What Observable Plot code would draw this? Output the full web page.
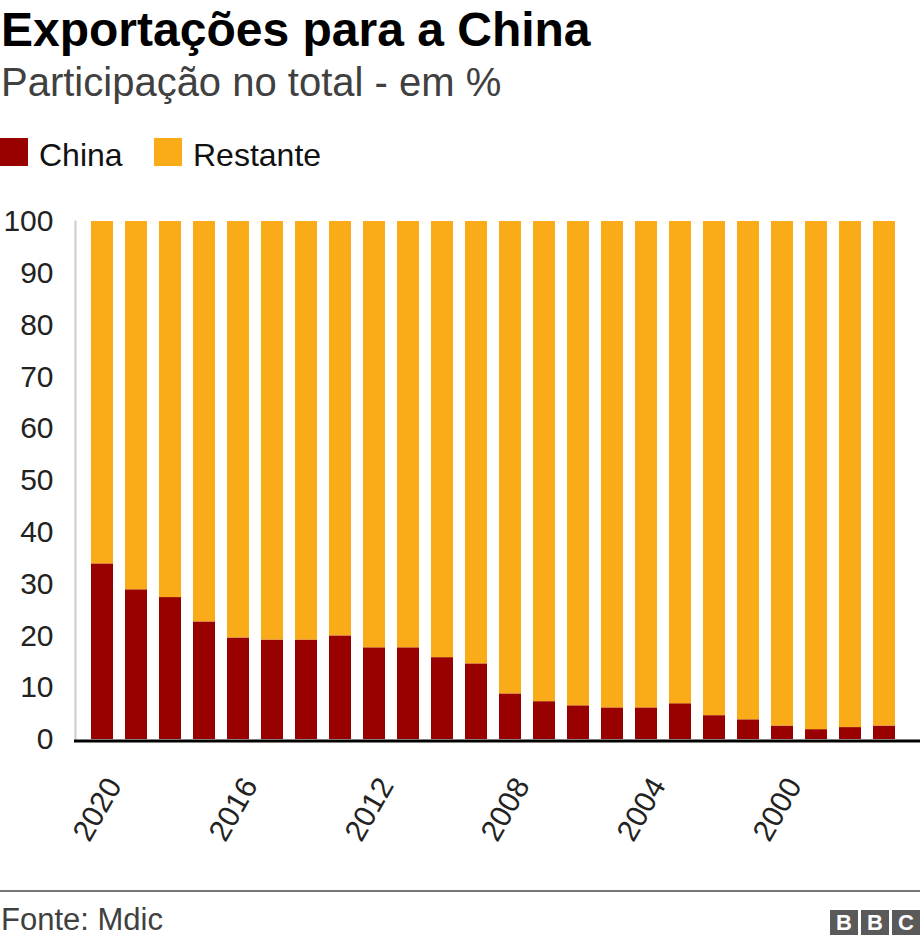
<!DOCTYPE html>
<html>
<head>
<meta charset="utf-8">
<script src="https://cdn.jsdelivr.net/npm/d3@7"></script>
<script src="https://cdn.jsdelivr.net/npm/@observablehq/plot@0.6"></script>
<style>
  html, body { margin: 0; padding: 0; background: #fff; }
  body { width: 920px; height: 946px; position: relative; overflow: hidden;
         font-family: "Liberation Sans", Arial, Helvetica, sans-serif; }
  .abs { position: absolute; line-height: 1; white-space: nowrap; }
  #title { left: 1px; top: 6px; font-size: 48px; font-weight: bold; color: #000; }
  #subtitle { left: 1px; top: 62px; font-size: 40px; color: #404040; }
  .sw { position: absolute; width: 28px; height: 28px; top: 138px; }
  .lg { font-size: 32px; color: #111; top: 139px; }
  #chart { position: absolute; left: 0; top: 190px; }
  #rule { position: absolute; left: 0; top: 890px; width: 920px; height: 2px; background: #777; }
  #source { left: 1px; top: 904px; font-size: 31px; color: #404040; }
  .bbc { position: absolute; top: 910px; width: 28px; height: 25px; background: #5a5a5a; color: #fff;
         font-weight: bold; font-size: 22px; line-height: 25px; text-align: center; }
</style>
</head>
<body>
<div id="title" class="abs">Exportações para a China</div>
<div id="subtitle" class="abs">Participação no total - em %</div>
<div class="sw" style="left:0;background:#990000"></div>
<div class="abs lg" style="left:39px">China</div>
<div class="sw" style="left:154px;background:#FAAB18"></div>
<div class="abs lg" style="left:193px">Restante</div>
<div id="chart"></div>
<div id="rule"></div>
<div id="source" class="abs">Fonte: Mdic</div>
<div class="bbc" style="left:830px">B</div>
<div class="bbc" style="left:861px">B</div>
<div class="bbc" style="left:892px">C</div>
<script>
const years = [2020, 2019, 2018, 2017, 2016, 2015, 2014, 2013, 2012, 2011, 2010, 2009,
               2008, 2007, 2006, 2005, 2004, 2003, 2002, 2001, 2000, 1999, 1998, 1997];
const china = [33.9, 28.9, 27.4, 22.7, 19.6, 19.2, 19.2, 20.0, 17.7, 17.7, 15.8, 14.6,
               8.8, 7.3, 6.5, 6.1, 6.1, 6.9, 4.6, 3.8, 2.6, 1.9, 2.3, 2.6];
const restante = [66.1, 71.1, 72.6, 77.3, 80.4, 80.8, 80.8, 80.0, 82.3, 82.3, 84.2, 85.4,
                  91.2, 92.7, 93.5, 93.9, 93.9, 93.1, 95.4, 96.2, 97.4, 98.1, 97.7, 97.4];
const seriesNames = ["China", "Restante"];
const seriesColors = ["#990000", "#FAAB18"];
const xTicks = [2020, 2016, 2012, 2008, 2004, 2000];
const yTicks = [0, 10, 20, 30, 40, 50, 60, 70, 80, 90, 100];

const rows = [];
years.forEach((yr, i) => {
  rows.push({year: yr, series: seriesNames[0], value: china[i]});
  rows.push({year: yr, series: seriesNames[1], value: restante[i]});
});

const chart = Plot.plot({
  width: 920,
  height: 690,
  marginLeft: 75,
  marginRight: 0,
  marginTop: 31,
  marginBottom: 141,
  style: {fontFamily: '"Liberation Sans", Arial, Helvetica, sans-serif', fontSize: "30px", color: "#222", background: "transparent"},
  x: {type: "band", domain: years, padding: 12 / 34, insetLeft: 4, insetRight: 13, axis: null, label: null},
  y: {domain: [0, 100], axis: null, label: null},
  color: {domain: seriesNames, range: seriesColors},
  marks: [
    Plot.frame({anchor: "left", stroke: "#cccccc", strokeWidth: 2}),
    Plot.barY(rows, {x: "year", y: "value", fill: "series"}),
    Plot.ruleY([0], {stroke: "#000", strokeWidth: 3, dy: 1.5, insetLeft: -1}),
    Plot.axisY(yTicks, {tickSize: 0, tickPadding: 22, fontSize: 30, fill: "#222", label: null,
                        tickFormat: d => String(d)}),
    Plot.axisX(xTicks, {tickSize: 0, tickPadding: 70, tickRotate: -60, dx: -5, label: null,
                        tickFormat: d => String(d),
                        textAnchor: "middle", lineAnchor: "middle", fontSize: 30, fill: "#222"})
  ]
});
document.getElementById("chart").appendChild(chart);
</script>
</body>
</html>
